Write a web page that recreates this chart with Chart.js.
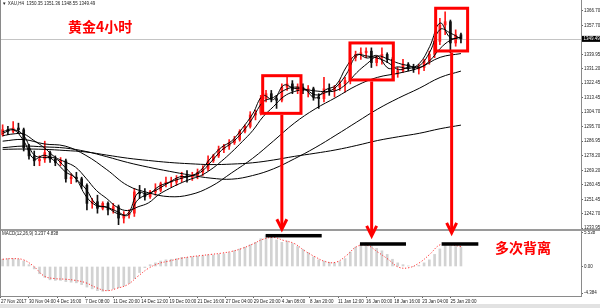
<!DOCTYPE html>
<html>
<head>
<meta charset="utf-8">
<script src="https://cdn.jsdelivr.net/npm/chart.js@4.4.1/dist/chart.umd.min.js"></script>
<style>
  html, body { margin: 0; padding: 0; background: #fff; }
  canvas { display: block; }
</style>
</head>
<body>
<canvas id="chart" width="600" height="308"></canvas>
<script>
// --- 1. DATA (XAU H4, each candle = 3 bars) ---
const opens  = [1291,1294,1293,1295,1294,1283,1278,1275,1276,1280,1276,1274,1275,1264,1265,1264,1260,1249,1250,1246,1249,1245,1247,1240,1242,1243,1256,1255,1253,1256,1257,1261,1262,1262,1264,1266,1265,1266,1268,1270,1275,1278,1282,1284,1286,1288,1293,1296,1303,1304,1313,1316,1313,1312,1320,1322,1318,1320,1318,1319,1314,1313,1319,1318,1320,1322,1324,1338,1340,1341,1342,1335,1338,1340,1337,1328,1330,1334,1332,1331,1332,1336,1340,1348,1358,1360,1347,1352];
const highs  = [1297,1296,1299,1298,1295,1285,1281,1278,1287,1281,1278,1277,1276,1267,1268,1265,1261,1252,1254,1250,1250,1249,1248,1244,1245,1258,1260,1258,1257,1261,1262,1265,1265,1266,1268,1269,1268,1270,1272,1278,1279,1284,1285,1288,1290,1294,1297,1305,1306,1315,1318,1318,1315,1322,1326,1324,1322,1322,1321,1320,1316,1326,1322,1321,1324,1326,1339,1342,1344,1344,1344,1339,1344,1341,1338,1332,1337,1335,1334,1334,1337,1342,1350,1362,1366,1361,1355,1353];
const lows   = [1290,1291,1292,1292,1281,1276,1272,1272,1274,1274,1272,1272,1262,1261,1262,1258,1245,1246,1243,1245,1242,1243,1236,1237,1240,1241,1252,1251,1252,1254,1256,1259,1259,1260,1262,1262,1263,1264,1266,1269,1274,1277,1280,1282,1285,1287,1292,1295,1300,1303,1311,1311,1307,1311,1318,1316,1316,1316,1314,1312,1307,1311,1315,1314,1318,1317,1322,1336,1337,1338,1332,1333,1334,1335,1325,1326,1329,1330,1329,1328,1330,1334,1338,1346,1352,1341,1345,1347];
const closes = [1294,1293,1295,1294,1283,1278,1275,1276,1280,1276,1274,1275,1264,1265,1264,1260,1249,1250,1246,1249,1245,1247,1240,1242,1243,1256,1255,1253,1256,1257,1261,1262,1262.5,1264,1266,1265,1266,1268,1270,1275,1278,1282,1284,1286,1288,1293,1296,1303,1304,1313,1316,1313,1312,1320,1322,1318,1320,1318,1319,1314,1313,1319,1318,1320,1322,1324,1338,1340,1341,1342,1335,1338,1340,1337,1328,1330,1334,1332,1331,1332,1336,1340,1348,1358,1360,1347,1352,1349.49];

// moving averages, evenly sampled from first to last candle
const ma5   = [1292.8,1294.2,1287.4,1276.2,1278.4,1274.8,1268.4,1264.4,1253.4,1247.6,1246.6,1242.8,1242.6,1255.4,1254.8,1259.4,1262,1265.2,1265.6,1269.2,1276.8,1283.2,1287.2,1294.8,1303.6,1314.8,1312.4,1321.2,1319.2,1318.6,1313.4,1318.4,1321.2,1332.4,1340,1337.8,1339.2,1331.6,1332.4,1331.4,1334.4,1344.8,1359.2,1350,1350.5];
const ma10  = [1291.7,1294,1290.7,1278.7,1277,1276.7,1271,1264.3,1257.7,1248.3,1246.7,1244,1241.7,1251.3,1254.7,1258,1261.7,1264,1265.7,1268,1274.3,1281.3,1286,1292.3,1301,1311,1313.7,1318,1320,1319,1315.3,1316.7,1320,1328,1339.3,1339,1337.7,1335,1330.7,1332.3,1333,1341.3,1355.3,1353,1349.5];
const ma20  = [1290.3,1291.4,1291.4,1287.4,1283,1277.4,1274.3,1271.1,1264.4,1256.9,1251.9,1246.6,1244.6,1246.9,1249.3,1254.4,1258,1261.1,1263.7,1265.9,1269.7,1274.7,1280.4,1286.7,1293.4,1301.9,1308.1,1314.3,1317.3,1318.4,1317.7,1317.3,1317.9,1322,1328.9,1334.4,1339,1337.1,1334.6,1333.1,1331.9,1336.1,1343.6,1348.7,1350.6];
const ma60  = [1287,1288,1285.3,1284,1278.3,1269.6,1259.9,1255.5,1253.1,1254.3,1259.3,1267.7,1276.5,1287.1,1298,1306.7,1313.7,1321,1326,1328.5,1331.8,1338.2,1340.5];
const ma120 = [1283,1284,1283.5,1282.8,1280.7,1277.5,1274,1271.1,1268.6,1266.3,1264.4,1263.8,1266,1270.1,1276.2,1283,1290.7,1298.7,1306.6,1313.3,1319.3,1325.9,1329.8];
const ma250 = [1282,1282.2,1282,1281.3,1280.4,1278.5,1276.6,1275.2,1274,1273.2,1272.7,1273,1273.8,1275.5,1277.7,1279.6,1281.7,1284.4,1287.4,1289.7,1291.8,1294.6,1296.8];

// MACD(12,26,9)
const macdHist   = [1.2,1.3,1.3,1.2,0.9,0.3,-0.4,-1.2,-1.8,-2.2,-2.3,-2.3,-2.5,-2.6,-2.7,-3.0,-3.4,-3.7,-4.0,-4.1,-4.0,-3.7,-3.5,-3.2,-2.8,-2.0,-1.0,-0.2,0.3,0.6,0.9,1.1,1.2,1.3,1.5,1.5,1.6,1.7,1.8,1.9,1.9,2.0,2.1,2.3,2.6,2.9,3.2,3.6,4.0,4.6,5.2,5.0,4.4,4.0,4.2,3.8,3.3,2.8,2.3,1.6,1.1,0.9,0.7,0.6,0.8,1.3,2.4,3.2,3.7,3.9,3.5,3.0,2.6,2.0,1.2,0.6,0.3,0.1,0.0,0.2,0.6,1.1,2.0,2.9,3.5,3.4,3.3,3.2];
const macdSignal = [1.2,1.3,1.1,0.0,-1.6,-2.0,-2.1,-2.3,-2.7,-3.5,-4.0,-3.6,-3.0,-1.6,-0.3,0.5,0.9,1.3,1.6,1.8,2.0,2.2,2.5,3.0,3.7,4.5,4.8,4.3,3.8,2.6,1.6,0.8,0.7,1.8,3.3,3.5,2.4,1.2,-0.1,-0.2,0.6,2.0,3.6,3.6,3.3];

// axes
const xLabels = ['27 Nov 2017','30 Nov 04:00','4 Dec 16:00','7 Dec 08:00','11 Dec 20:00','14 Dec 12:00','19 Dec 00:00','21 Dec 16:00','27 Dec 04:00','29 Dec 20:00','4 Jan 08:00','8 Jan 20:00','11 Jan 12:00','16 Jan 00:00','18 Jan 16:00','23 Jan 04:00','25 Jan 20:00'];
const priceTicks = [1366.70,1357.70,1339.95,1331.20,1322.45,1313.45,1304.70,1295.70,1286.95,1278.20,1269.20,1260.45,1251.45,1242.70,1233.95];
const macdTicks = [5.538, 0, -4.384];
const macdTickText = ['5.538', '0.00', '-4.384'];
const lastPrice = 1349.49;

// marked zones (bar index / price) and divergence marks (bar index / MACD value)
const zoneFrom = [149.6, 199.3, 248.1];
const zoneTo   = [171.4, 224.0, 266.3];
const zoneLow  = [1304.0, 1324.4, 1342.1];
const zoneHigh = [1327.0, 1347.0, 1368.2];
const arrowTip = [6.0, 4.9, 5.4];
const divFrom  = [151.3, 205.0, 251.5];
const divTo    = [183.2, 231.2, 272.4];
const divLevel = [5.09, 3.72, 3.72];

// --- 2. HELPERS ---
const BARS = 3;                 // H4 bars per drawn candle
const VIEW_BARS = 330.87;       // bars visible across the plot
const FONT = '"Liberation Sans", Arial, sans-serif';
const candleX = i => i * BARS + BARS / 2;
const firstX = candleX(0), lastX = candleX(closes.length - 1);
const sampled = arr => arr.map((v, j) => ({ x: firstX + j * (lastX - firstX) / (arr.length - 1), y: v }));
const candleColor = closes.map((c, i) => c >= opens[i] ? '#ff1a1a' : '#111111');

const maLine = arr => ({
  type: 'line', data: sampled(arr), yAxisID: 'y', order: 0,
  borderColor: '#000', borderWidth: 1, pointRadius: 0, tension: 0.4
});

// --- 3. OVERLAY PLUGIN ---
const overlay = {
  id: 'overlay',
  beforeDatasetsDraw(chart) {
    const { ctx, scales: { y }, chartArea: a } = chart;
    const py = Math.round(y.getPixelForValue(lastPrice)) + 0.5;
    ctx.save();
    ctx.strokeStyle = '#c4c4c4';
    ctx.lineWidth = 1;
    ctx.beginPath(); ctx.moveTo(a.left, py); ctx.lineTo(a.right, py); ctx.stroke();
    ctx.restore();
  },
  afterDraw(chart) {
    const { ctx, scales: { x, y, y2 }, chartArea: a } = chart;
    ctx.save();
    // pane separator, left edge, bottom strip
    ctx.fillStyle = '#9a9a9a';
    ctx.fillRect(0, y.bottom - 1, 600, 2);
    ctx.fillStyle = '#8a8a8a';
    ctx.fillRect(0, a.top, 1, a.bottom - a.top);
    ctx.fillStyle = '#e2e2e2';
    ctx.fillRect(0, 304, 600, 4);

    // small header texts
    ctx.font = '4.5px ' + FONT;
    ctx.textBaseline = 'middle';
    ctx.textAlign = 'left';
    ctx.fillStyle = '#222';
    ctx.fillText('\u25BC XAU,H4  1350.35 1351.36 1348.55 1349.49', 2, 4);
    ctx.fillText('MACD(12,26,9) 3.237 4.838', 2, y.bottom + 4);

    // current price box on the axis
    const py = y.getPixelForValue(lastPrice);
    ctx.fillStyle = '#000';
    ctx.fillRect(a.right + 1, py - 3, 19, 6);
    ctx.fillStyle = '#fff';
    ctx.fillText(lastPrice.toFixed(2), a.right + 2.5, py);

    // red zones with arrows
    ctx.strokeStyle = '#ff0000';
    ctx.lineWidth = 3;
    ctx.lineJoin = 'miter';
    zoneFrom.forEach((f, k) => {
      const x0 = x.getPixelForValue(f), x1 = x.getPixelForValue(zoneTo[k]);
      const yTop = y.getPixelForValue(zoneHigh[k]), yBot = y.getPixelForValue(zoneLow[k]);
      ctx.strokeRect(x0, yTop, x1 - x0, yBot - yTop);
      const ax = (x0 + x1) / 2;
      const tip = y2.getPixelForValue(arrowTip[k]);
      ctx.beginPath(); ctx.moveTo(ax, yBot + 1.5); ctx.lineTo(ax, tip - 2); ctx.stroke();
      ctx.beginPath(); ctx.moveTo(ax - 5, tip - 11); ctx.lineTo(ax, tip - 1); ctx.lineTo(ax + 5, tip - 11); ctx.stroke();
    });

    // divergence marks in the MACD pane
    ctx.fillStyle = '#000';
    divFrom.forEach((f, k) => {
      const x0 = x.getPixelForValue(f), x1 = x.getPixelForValue(divTo[k]);
      const yy = y2.getPixelForValue(divLevel[k]);
      ctx.fillRect(x0, yy - 1.75, x1 - x0, 3.5);
    });

    // captions
    ctx.fillStyle = '#ff0000';
    ctx.font = 'bold 14px "Noto Sans CJK SC", sans-serif';
    ctx.fillText('黄金4小时', 68, 27);
    ctx.fillText('多次背离', 495, 248);
    ctx.restore();
  }
};

// --- 4. CHART ---
const tickFont = { size: 4.5, family: FONT };
const noPad = s => { s.paddingTop = 0; s.paddingBottom = 0; s.paddingLeft = 0; s.paddingRight = 0; };

new Chart(document.getElementById('chart'), {
  type: 'bar',
  data: {
    datasets: [
      maLine(ma5), maLine(ma10), maLine(ma20), maLine(ma60), maLine(ma120), maLine(ma250),
      {
        type: 'line', yAxisID: 'y2', order: 0,
        data: sampled(macdSignal),
        borderColor: '#ff3030', borderWidth: 1, borderDash: [1.2, 1.8],
        pointRadius: 0, tension: 0.4
      },
      {
        yAxisID: 'y', order: 1, grouped: false, barThickness: 2, minBarLength: 1,
        data: closes.map((c, i) => ({ x: candleX(i), y: [opens[i], c] })),
        backgroundColor: candleColor, borderWidth: 0
      },
      {
        yAxisID: 'y', order: 2, grouped: false, barThickness: 1,
        data: closes.map((c, i) => ({ x: candleX(i), y: [lows[i], highs[i]] })),
        backgroundColor: candleColor, borderWidth: 0
      },
      {
        yAxisID: 'y2', order: 3, grouped: false, barThickness: 2,
        data: macdHist.map((v, i) => ({ x: candleX(i), y: v })),
        backgroundColor: '#d2d2d2', borderWidth: 0
      }
    ]
  },
  options: {
    responsive: false,
    animation: false,
    events: [],
    layout: { padding: 0 },
    plugins: { legend: { display: false }, tooltip: { enabled: false } },
    scales: {
      x: {
        type: 'linear', min: 0, max: VIEW_BARS, offset: false,
        grid: { drawOnChartArea: false, offset: false, tickLength: 2, color: '#666' },
        border: { color: '#8a8a8a' },
        ticks: {
          autoSkip: false, maxRotation: 0, minRotation: 0, align: 'start', padding: 1,
          font: tickFont, color: '#222',
          callback: (v, i) => xLabels[i]
        },
        afterBuildTicks: s => { s.ticks = xLabels.map((_, k) => ({ value: 0.5 + 16 * k })); },
        afterFit: s => { s.height = 12; noPad(s); }
      },
      y: {
        position: 'right', stack: 'pane', stackWeight: 230,
        min: 1232.73, max: 1373.24,
        grid: { drawOnChartArea: false, tickLength: 2, color: '#666' },
        border: { color: '#8a8a8a' },
        ticks: {
          padding: 1, font: tickFont, color: '#222',
          callback: (v, i) => priceTicks[i].toFixed(2)
        },
        afterBuildTicks: s => { s.ticks = priceTicks.map(v => ({ value: v })); },
        afterFit: s => { s.width = 19; noPad(s); }
      },
      y2: {
        position: 'right', stack: 'pane', stackWeight: 66,
        min: -4.880, max: 6.034,
        grid: { drawOnChartArea: false, tickLength: 2, color: '#666' },
        border: { color: '#8a8a8a' },
        ticks: {
          padding: 1, font: tickFont, color: '#222',
          callback: (v, i) => macdTickText[i]
        },
        afterBuildTicks: s => { s.ticks = macdTicks.map(v => ({ value: v })); },
        afterFit: s => { s.width = 19; noPad(s); }
      }
    }
  },
  plugins: [overlay]
});
</script>
</body>
</html>
